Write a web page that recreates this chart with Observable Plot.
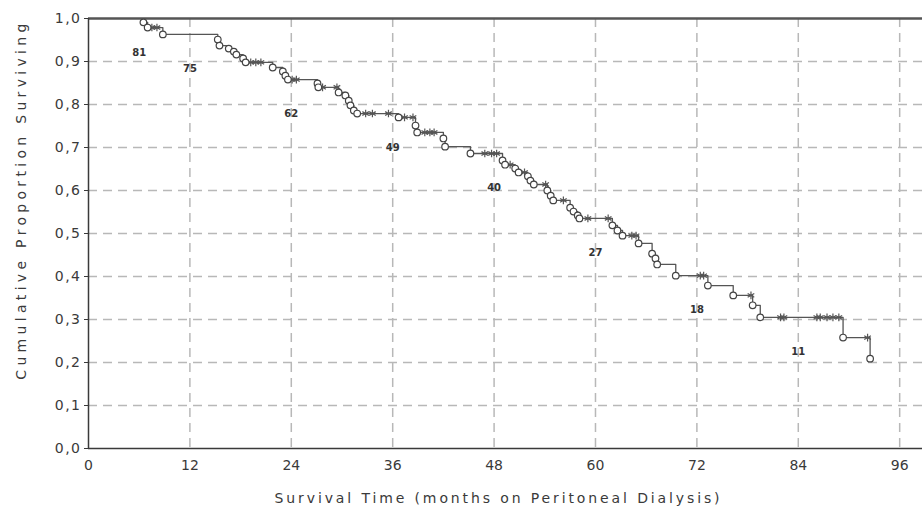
<!DOCTYPE html>
<html>
<head>
<meta charset="utf-8">
<script src="https://cdn.jsdelivr.net/npm/d3@7"></script>
<script src="https://cdn.jsdelivr.net/npm/@observablehq/plot@0.6"></script>
<style>
  body { margin: 0; background: #fff; }
  #chart svg { display: block; font-family: "DejaVu Sans", sans-serif; }
</style>
</head>
<body>
<div id="chart"></div>
<script>
// Kaplan-Meier events (months, cumulative proportion surviving after the event)
const eventTimes = [6.5, 7.0, 8.8, 15.3, 15.5, 16.6, 17.2, 17.5, 18.3, 18.6,
  21.8, 23.0, 23.3, 23.6, 27.1, 27.2, 29.6, 30.4, 30.8, 31.0,
  31.4, 31.8, 36.7, 38.7, 38.9, 42.0, 42.2, 45.2, 49.0, 49.3,
  50.5, 50.9, 52.0, 52.3, 52.7, 54.3, 54.7, 55.0, 57.0, 57.4,
  57.9, 58.1, 62.0, 62.6, 63.2, 65.1, 66.7, 67.1, 67.3, 69.5,
  73.3, 76.3, 78.6, 79.5, 89.3, 92.5];
const eventSurv = [0.991, 0.979, 0.963, 0.951, 0.937, 0.930, 0.923, 0.916, 0.907, 0.898,
  0.886, 0.877, 0.867, 0.858, 0.849, 0.840, 0.828, 0.821, 0.809, 0.798,
  0.786, 0.779, 0.770, 0.751, 0.735, 0.721, 0.702, 0.686, 0.670, 0.660,
  0.651, 0.642, 0.633, 0.623, 0.614, 0.600, 0.588, 0.577, 0.560, 0.551,
  0.542, 0.535, 0.519, 0.507, 0.495, 0.477, 0.453, 0.442, 0.428, 0.402,
  0.379, 0.356, 0.333, 0.305, 0.258, 0.209];
// censored observations (months)
const censorTimes = [7.5, 8.1, 19.2, 19.8, 20.4, 24.1, 24.6, 27.7, 29.4, 32.8,
  33.6, 35.5, 37.4, 38.4, 39.8, 40.4, 40.9, 46.9, 47.7, 48.3,
  49.9, 51.6, 54.1, 56.2, 59.1, 61.5, 64.3, 64.8, 72.4, 72.8,
  78.4, 81.9, 82.3, 86.2, 86.6, 87.4, 88.1, 88.8, 92.2];
// number at risk
const riskTimes = [6, 12, 24, 36, 48, 60, 72, 84];
const riskCounts = [81, 75, 62, 49, 40, 27, 18, 11];
// axis ticks
const xTicks = [0, 12, 24, 36, 48, 60, 72, 84, 96];
const yTicks = [0, 0.1, 0.2, 0.3, 0.4, 0.5, 0.6, 0.7, 0.8, 0.9, 1.0];
const xTitle = "Survival Time (months on Peritoneal Dialysis)";
const yTitle = "Cumulative Proportion Surviving";

const events = eventTimes.map((t, i) => ({t, s: eventSurv[i]}));
const survAt = t => {
  let s = 1;
  for (const e of events) if (e.t <= t) s = e.s;
  return s;
};
const censored = censorTimes.map(t => ({t, s: survAt(t)}));
const risk = riskTimes.map((t, i) => ({t, n: riskCounts[i], s: survAt(t)}));

const gridColor = "#b8b8b8";
const ink = "#3a3a3a";
const yFmt = d => d.toFixed(1).replace(".", ",");

const chart = Plot.plot({
  width: 922,
  height: 523,
  marginLeft: 88,
  marginRight: 0,
  marginTop: 18,
  marginBottom: 75,
  style: {background: "#fff", color: ink, fontSize: "14px"},
  x: {domain: [0, 98.7]},
  y: {domain: [0, 1]},
  marks: [
    Plot.gridX(xTicks.filter(d => d > 0), {stroke: gridColor, strokeOpacity: 1, strokeWidth: 1.5, strokeDasharray: "9,6"}),
    Plot.gridY(yTicks.filter(d => d > 0 && d < 1), {stroke: gridColor, strokeOpacity: 1, strokeWidth: 1.5, strokeDasharray: "9,6"}),
    Plot.axisX(xTicks, {tickSize: 0, tickPadding: 12, label: null, fontSize: 14, fill: ink}),
    Plot.axisY(yTicks, {tickSize: 4, tickPadding: 3, label: null, fontSize: 14, fill: ink, tickFormat: yFmt}),
    Plot.ruleY([1], {stroke: "#555", strokeWidth: 2.5}),
    Plot.ruleX([0], {stroke: ink, strokeWidth: 1.5}),
    Plot.ruleY([0], {stroke: ink, strokeWidth: 1.5}),
    Plot.line(events, {x: "t", y: "s", curve: "step-after", stroke: "#555", strokeWidth: 1.3}),
    Plot.dot(censored, {x: "t", y: "s", symbol: "asterisk", r: 3.6, stroke: "#555", strokeWidth: 1.2}),
    Plot.dot(events, {x: "t", y: "s", r: 3.3, stroke: "#444", fill: "#fff", strokeWidth: 1.2}),
    Plot.text(risk, {x: "t", y: "s", text: "n", dy: 34, fontSize: 10, fontWeight: "bold", fill: "#333"}),
    Plot.text([xTitle], {frameAnchor: "bottom", textAnchor: "middle", dy: 54, dx: -7, fontSize: 14, fill: ink}),
    Plot.text([yTitle], {frameAnchor: "left", textAnchor: "middle", rotate: -90, dx: -67, dy: -34, fontSize: 14, fill: ink})
  ]
});
document.getElementById("chart").appendChild(chart);

// widen the titles and tick labels to the spacing of the original bitmap font
const spread = (el, target) => {
  const len = el.getComputedTextLength();
  const n = el.textContent.length;
  if (n > 1 && target > len) el.style.letterSpacing = ((target - len) / (n - 1)) + "px";
};
const yLabels = new Set(yTicks.map(yFmt));
d3.select(chart).selectAll("text").each(function () {
  const s = this.textContent;
  if (s === xTitle) spread(this, 445);
  else if (s === yTitle) spread(this, 356);
  else if (yLabels.has(s)) this.style.letterSpacing = "1.5px";
});
</script>
</body>
</html>
